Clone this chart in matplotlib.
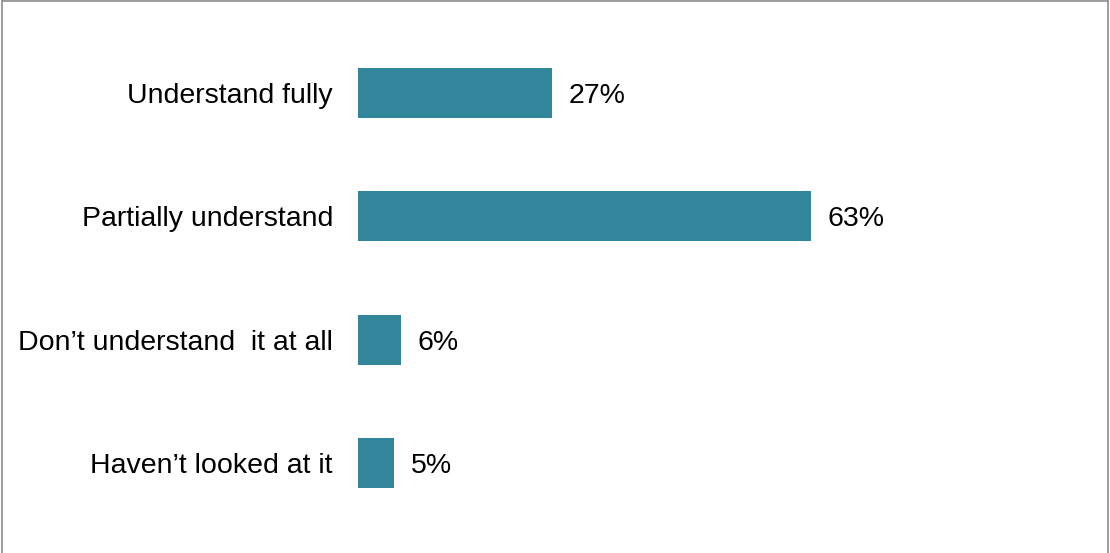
import matplotlib.pyplot as plt
from matplotlib.lines import Line2D

categories = ["Understand fully", "Partially understand",
              "Don\u2019t understand  it at all", "Haven\u2019t looked at it"]
values = [27, 63, 6, 5]

plt.rcParams['font.family'] = ['Liberation Sans', 'DejaVu Sans']

fig = plt.figure(figsize=(11.1, 5.53), dpi=100)
ax = fig.add_axes([358 / 1110, 0, 719 / 1110, 1])

ypos = list(range(len(categories)))
ax.barh(ypos, values, height=0.405, color='#31869B')
ax.set_xlim(0, 100)
ax.set_ylim(3 + 90 / 123.33, -93 / 123.33)

for y, v in zip(ypos, values):
    ax.annotate(f"{v}%", (v, y), xytext=(12, 0), textcoords='offset points',
                va='center_baseline', ha='left', fontsize=20.5)

ax.set_yticks(ypos)
ax.set_yticklabels(categories, fontsize=20.5, va='center_baseline')
ax.tick_params(axis='y', length=0, pad=18)
ax.set_xticks([])
for s in ax.spines.values():
    s.set_visible(False)

# thin grey frame (left, top, right)
border = dict(color='#8c8c8c', linewidth=1.2, transform=fig.transFigure)
fig.add_artist(Line2D([2 / 1110, 2 / 1110], [0, 1 - 1 / 553], **border))
fig.add_artist(Line2D([2 / 1110, 1108 / 1110], [1 - 1 / 553, 1 - 1 / 553], **border))
fig.add_artist(Line2D([1108 / 1110, 1108 / 1110], [0, 1 - 1 / 553], **border))

fig.savefig("out.png", dpi=100)
